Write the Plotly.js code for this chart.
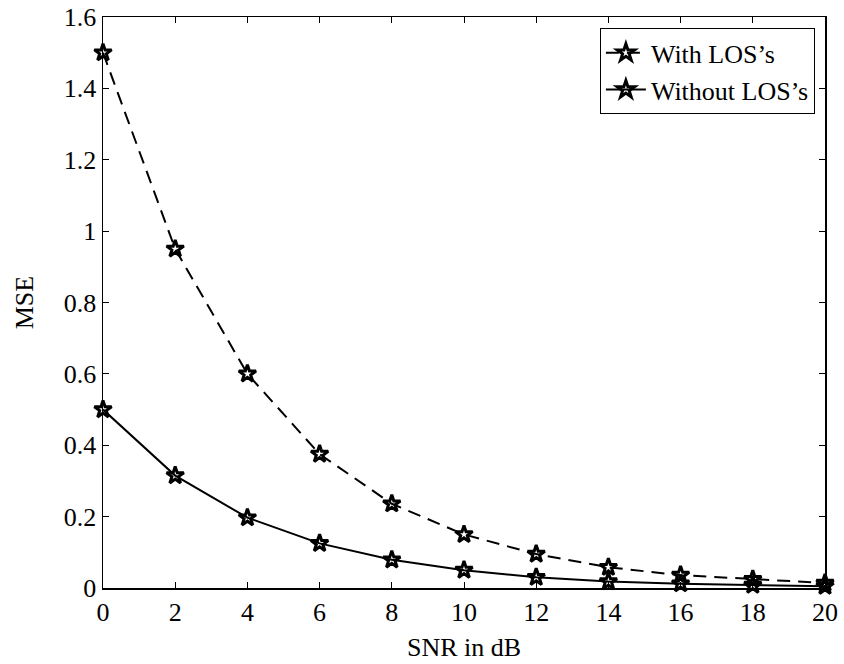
<!DOCTYPE html>
<html>
<head>
<meta charset="utf-8">
<script src="https://cdn.plot.ly/plotly-3.0.1.min.js"></script>
<style>html,body{margin:0;padding:0;background:#fff;}#chart{width:844px;height:664px;}</style>
</head>
<body>
<div id="chart"></div>
<script>
const snr = [0, 2, 4, 6, 8, 10, 12, 14, 16, 18, 20];
const withLOS = [1.5, 0.95, 0.6, 0.375, 0.236, 0.15, 0.095, 0.058, 0.036, 0.024, 0.014];
const withoutLOS = [0.5, 0.315, 0.197, 0.125, 0.079, 0.05, 0.03, 0.018, 0.012, 0.008, 0.005];
const xTicks = [0, 2, 4, 6, 8, 10, 12, 14, 16, 18, 20];
const yTicks = [0, 0.2, 0.4, 0.6, 0.8, 1, 1.2, 1.4, 1.6];
const yTickText = ['0', '0.2', '0.4', '0.6', '0.8', '1', '1.2', '1.4', '1.6'];

const font = {family: "'Liberation Serif', 'DejaVu Serif', serif", size: 26, color: '#000'};
const marker = {symbol: 'star-open', size: 13, color: '#000', line: {width: 3, color: '#000'}};

const traces = [
  {x: snr, y: withLOS, name: 'With LOS\u2019s', mode: 'lines+markers', cliponaxis: false,
   line: {color: '#000', width: 2, dash: '13px,8px'}, marker: marker},
  {x: snr, y: withoutLOS, name: 'Without LOS\u2019s', mode: 'lines+markers', cliponaxis: false,
   line: {color: '#000', width: 2}, marker: marker}
];

const axisCommon = {
  showgrid: false, zeroline: false, showline: true, linecolor: '#000', linewidth: 1.5,
  mirror: 'ticks', ticks: 'inside', ticklen: 6, tickwidth: 1, tickcolor: '#000',
  tickfont: font
};

const layout = {
  width: 844, height: 664,
  margin: {l: 103, r: 19, t: 17, b: 76},
  paper_bgcolor: '#fff', plot_bgcolor: '#fff',
  font: font,
  showlegend: true,
  legend: {x: 0.986, y: 0.98, xanchor: 'right', yanchor: 'top',
           bordercolor: '#000', borderwidth: 1, bgcolor: '#fff',
           font: font, tracegroupgap: 0, itemwidth: 40},
  xaxis: Object.assign({}, axisCommon, {
    range: [0, 20], tickvals: xTicks, ticktext: xTicks.map(String),
    title: {text: 'SNR in dB', font: font, standoff: 12}
  }),
  yaxis: Object.assign({}, axisCommon, {
    range: [0, 1.6], tickvals: yTicks, ticktext: yTickText,
    title: {text: 'MSE', font: font, standoff: 22}
  })
};

Plotly.newPlot('chart', traces, layout, {displayModeBar: false, staticPlot: true});
</script>
</body>
</html>
